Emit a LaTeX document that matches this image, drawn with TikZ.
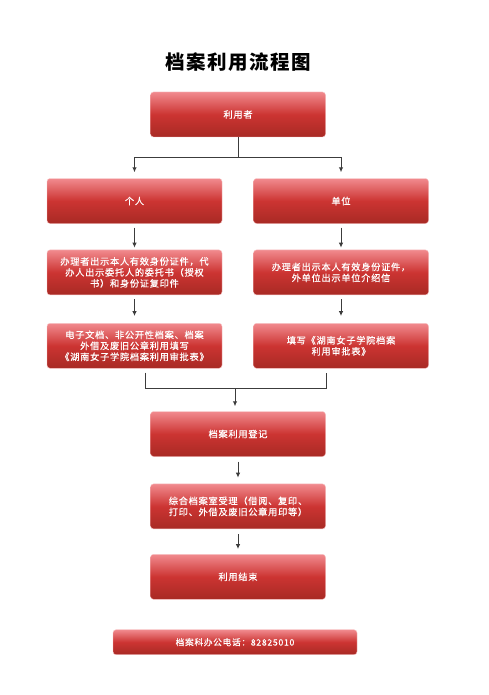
\documentclass[tikz,border=0pt]{standalone}
\usepackage{fontspec}
\setmainfont{Noto Sans CJK SC}[LetterSpace=8]
\newfontfamily\boxfont{Noto Sans CJK SC}[LetterSpace=8,FakeBold=0.6]
\usepackage{xcolor}
\usetikzlibrary{arrows.meta,positioning}
\definecolor{rtop}{RGB}{241,138,142}
\definecolor{rmid}{RGB}{204,52,50}
\definecolor{rbot}{RGB}{168,42,36}
\definecolor{lgray}{RGB}{60,60,60}

\begin{document}
\begin{tikzpicture}[
  x=1pt,y=1pt,
  font=\fontsize{9.2}{11}\selectfont\boxfont,
  node distance=26pt and 32pt,
  stepbox/.style={rounded corners=3pt,minimum width=175pt,minimum height=45pt,align=center,text=white,
    top color=rtop,bottom color=rbot,middle color=rmid,draw=rtop!50!white,line width=0.4pt},
  notebox/.style={stepbox,minimum width=244pt,minimum height=25pt,font=\fontsize{8.7}{10}\selectfont\boxfont},
  line/.style={draw=lgray,line width=1pt},
  arr/.style={line,-{Latex[length=5pt,width=4.5pt]}}
]
\useasboundingbox[fill=white] (0,0) rectangle (488,-695);
\node[font=\fontsize{19.5}{21}\selectfont\rmfamily\bfseries] (title) at (238,-62) {档案利用流程图};
\node[stepbox] (user) at (238,-114.5) {利用者};
\node[stepbox] (person) at (134.5,-201) {个人};
\node[stepbox] (unit) at (341,-201) {单位};
\node[stepbox,below=of person] (idperson) {办理者出示本人有效身份证件，代\\办人出示委托人的委托书（授权\\书）和身份证复印件};
\node[stepbox,below=of unit] (idunit) {办理者出示本人有效身份证件，\\外单位出示单位介绍信};
\node[stepbox,below=28pt of idperson] (formperson) {电子文档、非公开性档案、档案\\外借及废旧公章利用填写\\《湖南女子学院档案利用审批表》};
\node[stepbox,below=28pt of idunit] (formunit) {填写《湖南女子学院档案\\利用审批表》};
\node[stepbox] (register) at (238,-434) {档案利用登记};
\node[stepbox,below=27pt of register] (accept) {综合档案室受理（借阅、复印、\\打印、外借及废旧公章用印等）};
\node[stepbox,below=25pt of accept] (finish) {利用结束};
\node[notebox,below=30pt of finish,xshift=-3pt] (phone) {档案科办公电话：82825010};
% fork below the user
\coordinate[below=20pt of user] (fork);
\draw[line] (user) -- (fork);
\draw[arr,shorten >=6pt] (fork) -| (person.north);
\draw[arr,shorten >=6pt] (fork) -| (unit.north);
\draw[arr,shorten <=4pt,shorten >=2pt] (person) -- (idperson);
\draw[arr,shorten <=4pt,shorten >=2pt] (unit) -- (idunit);
\draw[arr,shorten <=4pt,shorten >=7pt] (idperson) -- (formperson);
\draw[arr,shorten <=4pt,shorten >=7pt] (idunit) -- (formunit);
% join above the register
\coordinate[above=23pt of register,xshift=-3pt] (join);
\draw[line] ([xshift=10.5pt,yshift=-4pt]formperson.south) |- (join) -| ([xshift=-15pt,yshift=-4pt]formunit.south);
\draw[arr,shorten >=5pt] (join) -- (join |- register.north);
\draw[arr,shorten <=5pt,shorten >=6pt] (register) -- (accept);
\draw[arr,shorten <=5pt,shorten >=5pt] (accept) -- (finish);
\end{tikzpicture}
\end{document}
